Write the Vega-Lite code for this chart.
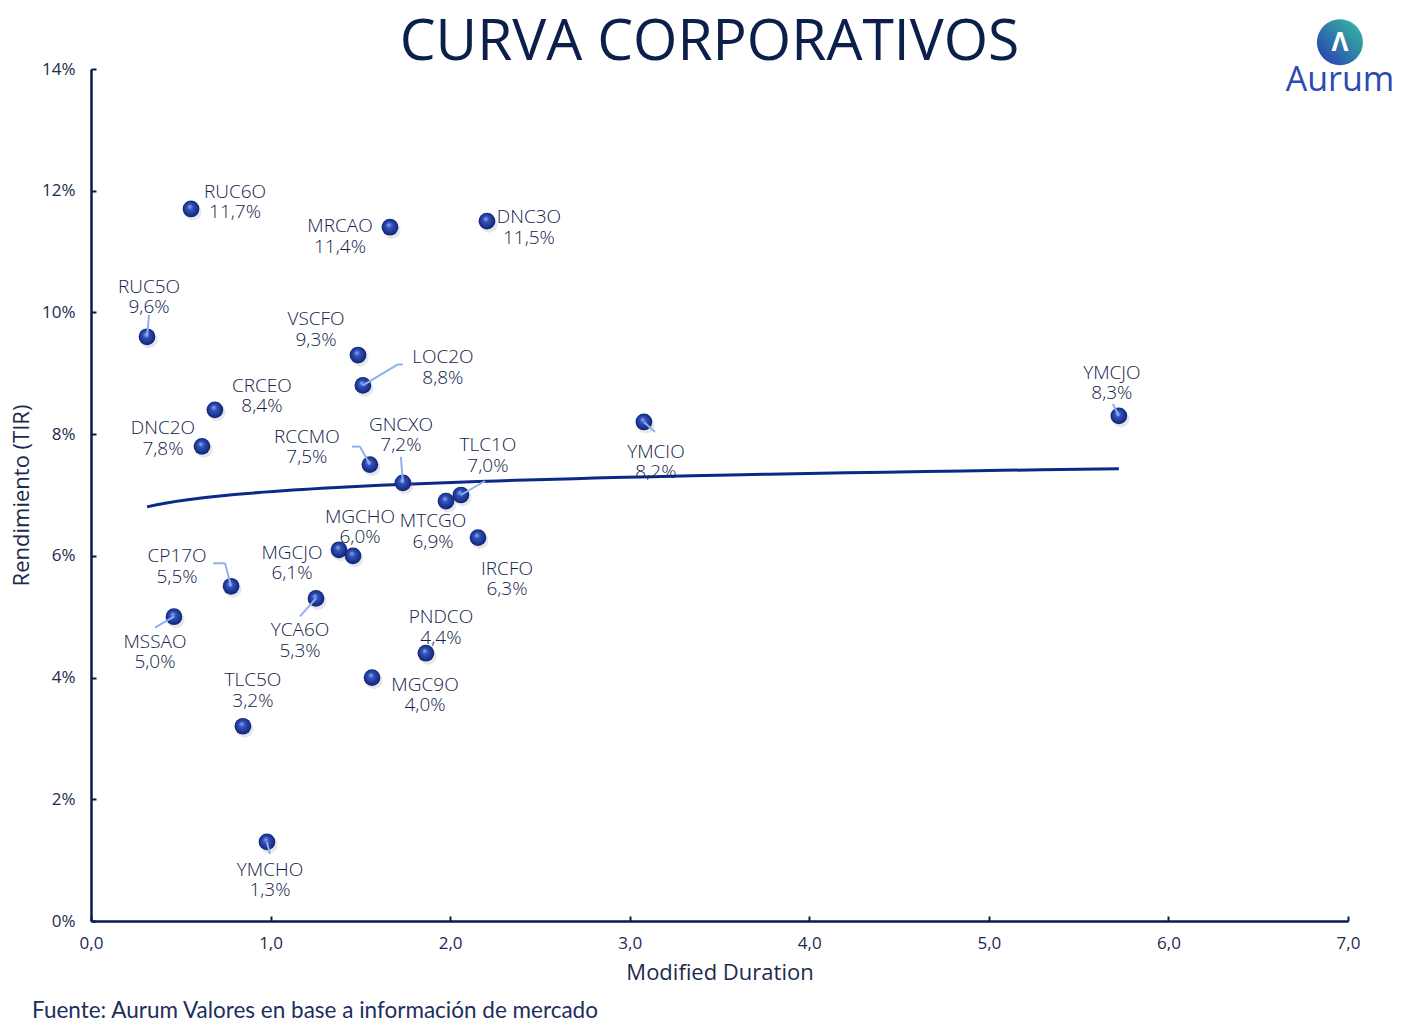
{
  "$schema": "https://vega.github.io/schema/vega-lite/v6.json",
  "width": 1257,
  "height": 852,
  "autosize": {"type": "none"},
  "padding": {"left": 91, "top": 69, "right": 72, "bottom": 109},
  "background": "white",
  "title": {
    "text": "CURVA CORPORATIVOS",
    "font": "Open Sans",
    "fontSize": 57,
    "fontWeight": 500,
    "color": "#0b1f4a",
    "anchor": "middle",
    "dx": -10,
    "offset": -53
  },
  "config": {
    "view": {"stroke": null},
    "text": {
      "font": "Open Sans",
      "fontSize": 19,
      "fontWeight": 300,
      "lineBreak": "\n",
      "lineHeight": 20.5,
      "color": "#12224a",
      "align": "center",
      "baseline": "middle"
    },
    "axis": {
      "grid": false,
      "domainColor": "#061d4d",
      "domainWidth": 2.5,
      "tickColor": "#061d4d",
      "tickWidth": 2,
      "tickSize": -5,
      "labelFlush": false,
      "labelFont": "Open Sans",
      "labelFontSize": 17,
      "labelColor": "#1b2b4d",
      "titleFont": "Open Sans",
      "titleFontSize": 22,
      "titleFontWeight": "normal",
      "titleColor": "#1b2b4d"
    }
  },
  "layer": [
    {
      "data": {
        "values": [
          {"name": "RUC6O", "dur": 0.557, "tir": 11.7},
          {"name": "MRCAO", "dur": 1.665, "tir": 11.4},
          {"name": "DNC3O", "dur": 2.205, "tir": 11.5},
          {"name": "RUC5O", "dur": 0.312, "tir": 9.6},
          {"name": "VSCFO", "dur": 1.487, "tir": 9.3},
          {"name": "LOC2O", "dur": 1.514, "tir": 8.8},
          {"name": "CRCEO", "dur": 0.69, "tir": 8.4},
          {"name": "DNC2O", "dur": 0.618, "tir": 7.8},
          {"name": "RCCMO", "dur": 1.553, "tir": 7.5},
          {"name": "GNCXO", "dur": 1.737, "tir": 7.2},
          {"name": "TLC1O", "dur": 2.06, "tir": 7.0},
          {"name": "MTCGO", "dur": 1.977, "tir": 6.9},
          {"name": "IRCFO", "dur": 2.155, "tir": 6.3},
          {"name": "YMCIO", "dur": 3.079, "tir": 8.2},
          {"name": "YMCJO", "dur": 5.724, "tir": 8.3},
          {"name": "MGCHO", "dur": 1.459, "tir": 6.0},
          {"name": "MGCJO", "dur": 1.381, "tir": 6.1},
          {"name": "CP17O", "dur": 0.78, "tir": 5.5},
          {"name": "MSSAO", "dur": 0.462, "tir": 5.0},
          {"name": "YCA6O", "dur": 1.253, "tir": 5.3},
          {"name": "PNDCO", "dur": 1.865, "tir": 4.4},
          {"name": "MGC9O", "dur": 1.565, "tir": 4.0},
          {"name": "TLC5O", "dur": 0.846, "tir": 3.2},
          {"name": "YMCHO", "dur": 0.98, "tir": 1.3}
        ]
      },
      "transform": [
        {"calculate": "datum.name + '\\n' + replace(format(datum.tir, '.1f'), '.', ',') + '%'", "as": "label"}
      ],
      "encoding": {
        "x": {
          "field": "dur",
          "type": "quantitative",
          "scale": {"domain": [0, 7], "nice": false, "zero": true},
          "axis": {
            "title": "Modified Duration",
            "values": [0, 1, 2, 3, 4, 5, 6, 7],
            "labelExpr": "replace(format(datum.value, '.1f'), '.', ',')",
            "labelPadding": 19,
            "titlePadding": 11
          }
        },
        "y": {
          "field": "tir",
          "type": "quantitative",
          "scale": {"domain": [0, 14], "nice": false},
          "axis": {
            "title": "Rendimiento (TIR)",
            "values": [0, 2, 4, 6, 8, 10, 12, 14],
            "labelExpr": "datum.value + '%'",
            "labelPadding": 21,
            "titlePadding": 8
          }
        }
      },
      "layer": [
        {
          "transform": [{"regression": "tir", "on": "dur", "method": "log"}],
          "mark": {"type": "line", "color": "#0a2a8a", "strokeWidth": 3}
        },
        {
          "mark": {"type": "point", "shape": "circle", "filled": true, "size": 290, "color": "#7a7a7a", "opacity": 0.18, "xOffset": 2, "yOffset": 3}
        },
        {
          "mark": {
            "type": "point",
            "shape": "circle",
            "filled": true,
            "size": 280,
            "opacity": 1,
            "strokeWidth": 0,
            "fill": {
              "gradient": "radial",
              "x1": 0.42, "y1": 0.35, "r1": 0,
              "x2": 0.5, "y2": 0.5, "r2": 0.55,
              "stops": [
                {"offset": 0, "color": "#9fb5f0"},
                {"offset": 0.3, "color": "#3454bd"},
                {"offset": 1, "color": "#0a1e6e"}
              ]
            }
          }
        },
        {"transform": [{"filter": "datum.name === 'RUC5O'"}], "mark": {"type": "rule", "color": "#8fb0ef", "strokeWidth": 2, "x2Offset": 2, "y2Offset": -22}, "encoding": {"x2": {"field": "dur"}, "y2": {"field": "tir"}}},
        {"transform": [{"filter": "datum.name === 'LOC2O'"}], "mark": {"type": "rule", "color": "#8fb0ef", "strokeWidth": 2, "x2Offset": 35, "y2Offset": -21}, "encoding": {"x2": {"field": "dur"}, "y2": {"field": "tir"}}},
        {"transform": [{"filter": "datum.name === 'LOC2O'"}], "mark": {"type": "rule", "color": "#8fb0ef", "strokeWidth": 2, "xOffset": 35, "yOffset": -21, "x2Offset": 40, "y2Offset": -21}, "encoding": {"x2": {"field": "dur"}, "y2": {"field": "tir"}}},
        {"transform": [{"filter": "datum.name === 'RCCMO'"}], "mark": {"type": "rule", "color": "#8fb0ef", "strokeWidth": 2, "x2Offset": -10, "y2Offset": -18}, "encoding": {"x2": {"field": "dur"}, "y2": {"field": "tir"}}},
        {"transform": [{"filter": "datum.name === 'RCCMO'"}], "mark": {"type": "rule", "color": "#8fb0ef", "strokeWidth": 2, "xOffset": -10, "yOffset": -18, "x2Offset": -18, "y2Offset": -18}, "encoding": {"x2": {"field": "dur"}, "y2": {"field": "tir"}}},
        {"transform": [{"filter": "datum.name === 'GNCXO'"}], "mark": {"type": "rule", "color": "#8fb0ef", "strokeWidth": 2, "x2Offset": -2, "y2Offset": -26}, "encoding": {"x2": {"field": "dur"}, "y2": {"field": "tir"}}},
        {"transform": [{"filter": "datum.name === 'TLC1O'"}], "mark": {"type": "rule", "color": "#8fb0ef", "strokeWidth": 2, "x2Offset": 24, "y2Offset": -14}, "encoding": {"x2": {"field": "dur"}, "y2": {"field": "tir"}}},
        {"transform": [{"filter": "datum.name === 'YMCIO'"}], "mark": {"type": "rule", "color": "#8fb0ef", "strokeWidth": 2, "x2Offset": 11, "y2Offset": 10}, "encoding": {"x2": {"field": "dur"}, "y2": {"field": "tir"}}},
        {"transform": [{"filter": "datum.name === 'YMCJO'"}], "mark": {"type": "rule", "color": "#8fb0ef", "strokeWidth": 2, "x2Offset": -6, "y2Offset": -12}, "encoding": {"x2": {"field": "dur"}, "y2": {"field": "tir"}}},
        {"transform": [{"filter": "datum.name === 'CP17O'"}], "mark": {"type": "rule", "color": "#8fb0ef", "strokeWidth": 2, "x2Offset": -6, "y2Offset": -23}, "encoding": {"x2": {"field": "dur"}, "y2": {"field": "tir"}}},
        {"transform": [{"filter": "datum.name === 'CP17O'"}], "mark": {"type": "rule", "color": "#8fb0ef", "strokeWidth": 2, "xOffset": -6, "yOffset": -23, "x2Offset": -18, "y2Offset": -23}, "encoding": {"x2": {"field": "dur"}, "y2": {"field": "tir"}}},
        {"transform": [{"filter": "datum.name === 'MSSAO'"}], "mark": {"type": "rule", "color": "#8fb0ef", "strokeWidth": 2, "x2Offset": -19, "y2Offset": 11}, "encoding": {"x2": {"field": "dur"}, "y2": {"field": "tir"}}},
        {"transform": [{"filter": "datum.name === 'YCA6O'"}], "mark": {"type": "rule", "color": "#8fb0ef", "strokeWidth": 2, "x2Offset": -16, "y2Offset": 18}, "encoding": {"x2": {"field": "dur"}, "y2": {"field": "tir"}}},
        {"transform": [{"filter": "datum.name === 'YMCHO'"}], "mark": {"type": "rule", "color": "#8fb0ef", "strokeWidth": 2, "x2Offset": 3, "y2Offset": 12}, "encoding": {"x2": {"field": "dur"}, "y2": {"field": "tir"}}},
        {"transform": [{"filter": "datum.name === 'RUC6O'"}], "mark": {"type": "text", "dx": 44, "dy": -17}, "encoding": {"text": {"field": "label"}}},
        {"transform": [{"filter": "datum.name === 'MRCAO'"}], "mark": {"type": "text", "dx": -50, "dy": -1}, "encoding": {"text": {"field": "label"}}},
        {"transform": [{"filter": "datum.name === 'DNC3O'"}], "mark": {"type": "text", "dx": 42, "dy": -4}, "encoding": {"text": {"field": "label"}}},
        {"transform": [{"filter": "datum.name === 'RUC5O'"}], "mark": {"type": "text", "dx": 2, "dy": -50}, "encoding": {"text": {"field": "label"}}},
        {"transform": [{"filter": "datum.name === 'VSCFO'"}], "mark": {"type": "text", "dx": -42, "dy": -36}, "encoding": {"text": {"field": "label"}}},
        {"transform": [{"filter": "datum.name === 'LOC2O'"}], "mark": {"type": "text", "dx": 80, "dy": -28}, "encoding": {"text": {"field": "label"}}},
        {"transform": [{"filter": "datum.name === 'CRCEO'"}], "mark": {"type": "text", "dx": 47, "dy": -24}, "encoding": {"text": {"field": "label"}}},
        {"transform": [{"filter": "datum.name === 'DNC2O'"}], "mark": {"type": "text", "dx": -39, "dy": -18}, "encoding": {"text": {"field": "label"}}},
        {"transform": [{"filter": "datum.name === 'RCCMO'"}], "mark": {"type": "text", "dx": -63, "dy": -28}, "encoding": {"text": {"field": "label"}}},
        {"transform": [{"filter": "datum.name === 'GNCXO'"}], "mark": {"type": "text", "dx": -2, "dy": -58}, "encoding": {"text": {"field": "label"}}},
        {"transform": [{"filter": "datum.name === 'TLC1O'"}], "mark": {"type": "text", "dx": 27, "dy": -50}, "encoding": {"text": {"field": "label"}}},
        {"transform": [{"filter": "datum.name === 'MTCGO'"}], "mark": {"type": "text", "dx": -13, "dy": 20}, "encoding": {"text": {"field": "label"}}},
        {"transform": [{"filter": "datum.name === 'IRCFO'"}], "mark": {"type": "text", "dx": 29, "dy": 31}, "encoding": {"text": {"field": "label"}}},
        {"transform": [{"filter": "datum.name === 'YMCIO'"}], "mark": {"type": "text", "dx": 12, "dy": 30}, "encoding": {"text": {"field": "label"}}},
        {"transform": [{"filter": "datum.name === 'YMCJO'"}], "mark": {"type": "text", "dx": -7, "dy": -43}, "encoding": {"text": {"field": "label"}}},
        {"transform": [{"filter": "datum.name === 'MGCHO'"}], "mark": {"type": "text", "dx": 7, "dy": -39}, "encoding": {"text": {"field": "label"}}},
        {"transform": [{"filter": "datum.name === 'MGCJO'"}], "mark": {"type": "text", "dx": -47, "dy": 3}, "encoding": {"text": {"field": "label"}}},
        {"transform": [{"filter": "datum.name === 'CP17O'"}], "mark": {"type": "text", "dx": -54, "dy": -30}, "encoding": {"text": {"field": "label"}}},
        {"transform": [{"filter": "datum.name === 'MSSAO'"}], "mark": {"type": "text", "dx": -19, "dy": 25}, "encoding": {"text": {"field": "label"}}},
        {"transform": [{"filter": "datum.name === 'YCA6O'"}], "mark": {"type": "text", "dx": -16, "dy": 32}, "encoding": {"text": {"field": "label"}}},
        {"transform": [{"filter": "datum.name === 'PNDCO'"}], "mark": {"type": "text", "dx": 15, "dy": -36}, "encoding": {"text": {"field": "label"}}},
        {"transform": [{"filter": "datum.name === 'MGC9O'"}], "mark": {"type": "text", "dx": 53, "dy": 7}, "encoding": {"text": {"field": "label"}}},
        {"transform": [{"filter": "datum.name === 'TLC5O'"}], "mark": {"type": "text", "dx": 10, "dy": -46}, "encoding": {"text": {"field": "label"}}},
        {"transform": [{"filter": "datum.name === 'YMCHO'"}], "mark": {"type": "text", "dx": 3, "dy": 28}, "encoding": {"text": {"field": "label"}}}
      ]
    },
    {
      "data": {"values": [{"src": "Fuente: Aurum Valores en base a información de mercado"}]},
      "mark": {"type": "text", "align": "left", "baseline": "middle", "fontSize": 22.5, "font": "Lato", "fontWeight": "normal", "color": "#1c2e5e"},
      "encoding": {
        "x": {"datum": -0.3285, "type": "quantitative", "title": "Modified Duration"},
        "y": {"datum": -1.48, "type": "quantitative", "title": "Rendimiento (TIR)"},
        "text": {"field": "src"}
      }
    },
    {
      "data": {"values": [{"brand": "Aurum"}]},
      "mark": {
        "type": "point", "shape": "circle", "filled": true, "size": 2116, "opacity": 1, "strokeWidth": 0,
        "fill": {
          "gradient": "linear", "x1": 0.1, "y1": 0.9, "x2": 0.9, "y2": 0.1,
          "stops": [{"offset": 0, "color": "#2a44b2"}, {"offset": 1, "color": "#36b3a2"}]
        }
      },
      "encoding": {
        "x": {"datum": 6.955, "type": "quantitative", "title": "Modified Duration"},
        "y": {"datum": 14.44, "type": "quantitative", "title": "Rendimiento (TIR)"}
      }
    },
    {
      "data": {"values": [{"glyph": "Λ"}]},
      "mark": {"type": "text", "align": "center", "baseline": "middle", "fontSize": 26, "font": "Open Sans", "fontWeight": "bold", "color": "white"},
      "encoding": {
        "x": {"datum": 6.955, "type": "quantitative", "title": "Modified Duration"},
        "y": {"datum": 14.42, "type": "quantitative", "title": "Rendimiento (TIR)"},
        "text": {"field": "glyph"}
      }
    },
    {
      "data": {"values": [{"brand": "Aurum"}]},
      "mark": {"type": "text", "align": "center", "baseline": "middle", "fontSize": 34, "font": "Open Sans", "fontWeight": "normal", "color": "#2b4bb3"},
      "encoding": {
        "x": {"datum": 6.955, "type": "quantitative", "title": "Modified Duration"},
        "y": {"datum": 13.8, "type": "quantitative", "title": "Rendimiento (TIR)"},
        "text": {"field": "brand"}
      }
    }
  ]
}
